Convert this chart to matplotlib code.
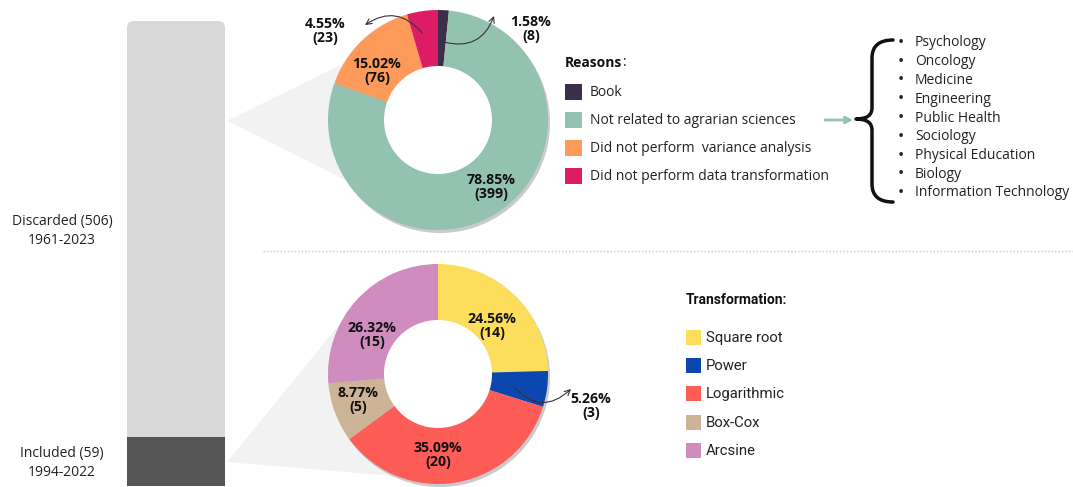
import matplotlib
matplotlib.use("Agg")
import matplotlib.pyplot as plt
from matplotlib.patches import Polygon, Circle, FancyBboxPatch, PathPatch
from matplotlib.path import Path

plt.rcParams['font.family'] = ['Open Sans', 'DejaVu Sans']

# ---- data ----
study_groups = ["Included (59)\n1994-2022", "Discarded (506)\n1961-2023"]
study_counts = [59, 506]

reasons = ["Book", "Not related to agrarian sciences",
           "Did not perform  variance analysis", "Did not perform data transformation"]
reason_counts = [8, 399, 76, 23]
reason_pcts = [1.58, 78.85, 15.02, 4.55]
reason_colors = ["#3b2e4c", "#93c2b0", "#fd9a5a", "#dc1d66"]

fields = ["Psychology", "Oncology", "Medicine", "Engineering", "Public Health",
          "Sociology", "Physical Education", "Biology", "Information Technology"]

transforms = ["Square root", "Power", "Logarithmic", "Box-Cox", "Arcsine"]
transform_counts = [14, 3, 20, 5, 15]
transform_pcts = [24.56, 5.26, 35.09, 8.77, 26.32]
transform_colors = ["#fddd5c", "#0b47ae", "#fd5c57", "#cdb497", "#d08bbf"]

W, H = 1073, 487
fig = plt.figure(figsize=(W / 100, H / 100), dpi=100)
ax = fig.add_axes([0, 0, 1, 1])   # pixel coordinates, y down

R_OUT, R_IN = 110, 54
top_c = (438, 120)
bot_c = (438, 374)

# grey "zoom" funnels behind the donuts
ax.add_patch(Polygon([(227, 121), (350, 60), (438, 120), (355, 185)],
                     closed=True, color="#f2f2f2", lw=0, zorder=0))
ax.add_patch(Polygon([(227, 462), (352, 309), (438, 374), (440, 480)],
                     closed=True, color="#f2f2f2", lw=0, zorder=0))

# soft shadows under the donuts
for c in (top_c, bot_c):
    ax.add_patch(Circle((c[0] + 2, c[1] + 3), R_OUT, color="#8a8a8a", alpha=0.45, lw=0, zorder=1))

# donuts (y axis is inverted -> start at -90 and go "counterclock" to look clockwise)
ax.pie(reason_counts, colors=reason_colors, center=top_c, radius=R_OUT,
       startangle=-90, counterclock=True, frame=True,
       wedgeprops=dict(width=R_OUT, linewidth=0, zorder=2))
ax.pie(transform_counts, colors=transform_colors, center=bot_c, radius=R_OUT,
       startangle=-90, counterclock=True, frame=True,
       wedgeprops=dict(width=R_OUT, linewidth=0, zorder=2))
for c in (top_c, bot_c):
    ax.add_patch(Circle(c, R_IN, color="white", lw=0, zorder=3))

# percentage labels
top_lbl_xy = [(531, 29), (491, 187), (377, 71), (325, 31)]
for p, n, (x, y) in zip(reason_pcts, reason_counts, top_lbl_xy):
    ax.text(x, y, f"{p:.2f}%\n({n})", ha="center", va="center", fontsize=10.2,
            fontweight="bold", linespacing=1.05, color="#111111", zorder=5)
bot_lbl_xy = [(492, 326), (591, 406), (438, 455), (358, 400), (372, 335)]
for p, n, (x, y) in zip(transform_pcts, transform_counts, bot_lbl_xy):
    ax.text(x, y, f"{p:.2f}%\n({n})", ha="center", va="center", fontsize=10.2,
            fontweight="bold", linespacing=1.05, color="#111111", zorder=5)

# curved pointer arrows
arr = dict(arrowstyle="->", lw=0.8, color="#333333", shrinkA=0, shrinkB=0)
ax.annotate("", xy=(494, 16), xytext=(444, 42),
            arrowprops=dict(arr, connectionstyle="arc3,rad=0.45"), zorder=6)
ax.annotate("", xy=(365, 25), xytext=(422, 33),
            arrowprops=dict(arr, connectionstyle="arc3,rad=0.45"), zorder=6)
ax.annotate("", xy=(571, 389), xytext=(514, 387),
            arrowprops=dict(arr, connectionstyle="arc3,rad=0.5"), zorder=6)

# separator
ax.plot([263, W], [251, 251], ls=(0, (1, 1.5)), color="#c8c8c8", lw=1, zorder=1)

ax.set_xlim(0, W)
ax.set_ylim(H, 0)
ax.set_aspect("equal")
ax.axis("off")

# legend: reasons
ax.text(565, 63, "Reasons", fontsize=10, fontweight="bold", va="center",
        ha="left", color="#111111")
ax.text(623, 63, ":", fontsize=10, va="center", ha="left", color="#111111")
for i, (lab, col) in enumerate(zip(reasons, reason_colors)):
    y = 92 + 28 * i
    ax.add_patch(FancyBboxPatch((565, y - 8), 17, 16, boxstyle="square,pad=0",
                                color=col, lw=0))
    ax.text(590, y, lab, fontsize=10, va="center", ha="left", color="#222222")

# arrow + brace + field list
ax.annotate("", xy=(853, 120), xytext=(825, 120),
            arrowprops=dict(arrowstyle="->", lw=2, color="#93c2b0", shrinkA=0, shrinkB=0))
verts = [(893, 40), (872, 40), (872, 58), (872, 108), (872, 119), (856, 119),
         (872, 119), (872, 130), (872, 184), (872, 202), (893, 202)]
codes = [Path.MOVETO, Path.CURVE3, Path.CURVE3, Path.LINETO, Path.CURVE3, Path.CURVE3,
         Path.CURVE3, Path.CURVE3, Path.LINETO, Path.CURVE3, Path.CURVE3]
ax.add_patch(PathPatch(Path(verts, codes), fill=False, lw=2.5, color="#111111",
                       capstyle="round", joinstyle="round"))
for i, f in enumerate(fields):
    y = 43 + 18.75 * i
    ax.text(901, y, "•", fontsize=12, va="center", ha="center", color="#222222")
    ax.text(915, y, f, fontsize=10, va="center", ha="left", color="#222222")

# legend: transformations
ax.text(686, 300, "Transformation:", fontsize=10, fontweight="bold", va="center",
        ha="left", family="Roboto", color="#111111")
for i, (lab, col) in enumerate(zip(transforms, transform_colors)):
    y = 338 + 28.2 * i
    ax.add_patch(FancyBboxPatch((686, y - 8), 15, 15, boxstyle="square,pad=0",
                                color=col, lw=0))
    ax.text(706, y, lab, fontsize=10.7, va="center", ha="left", family="Roboto",
            color="#222222")

# stacked bar of discarded / included studies
bar_ax = fig.add_axes([127 / W, 1 - 486 / H, 98 / W, 465 / H])
bar_ax.set_xlim(-0.5, 0.5)
bar_ax.set_ylim(0, sum(study_counts))
bar_ax.patch.set_alpha(0)
bar_ax.axis("off")
dark = bar_ax.bar(0, study_counts[0], width=1, color="#555555", zorder=3)
light = bar_ax.bar(0, study_counts[1], bottom=study_counts[0], width=1, color="#d9d9d9", zorder=2)

# round top corners of the light bar (redraw it in pixel space)
r = light[0]
to_px = bar_ax.transData + ax.transData.inverted()
(x0, y0) = to_px.transform((r.get_x(), r.get_y()))
(x1, y1) = to_px.transform((r.get_x() + r.get_width(), r.get_y() + r.get_height()))
r.set_visible(False)
ax.add_patch(FancyBboxPatch((x0, y1), x1 - x0, (y0 - y1) + 10,
                            boxstyle="round,pad=0,rounding_size=7",
                            color="#d9d9d9", lw=0, zorder=0.5))

for rect, lab in zip([dark[0], r], study_groups):
    yc = rect.get_y() + rect.get_height() / 2
    ypx = to_px.transform((0, yc))[1]
    ax.text(62, ypx + 1.5, lab, ha="center", va="center", fontsize=10,
            color="#222222", linespacing=1.35)

fig.savefig("out.png", dpi=100)
